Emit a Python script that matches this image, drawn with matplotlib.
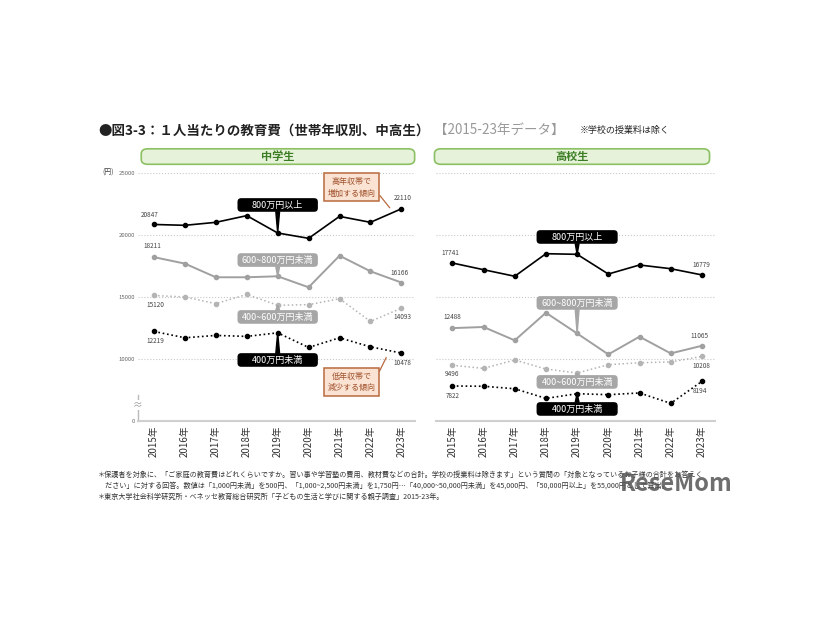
import matplotlib.pyplot as plt
from matplotlib.patches import FancyBboxPatch

plt.rcParams['font.family'] = ['Noto Sans CJK JP', 'DejaVu Sans']

# data (yen per child per month)
years = [2015, 2016, 2017, 2018, 2019, 2020, 2021, 2022, 2023]
series_names = ['800万円以上', '600~800万円未満', '400~600万円未満', '400万円未満']

jhs_800 = [20847, 20780, 21020, 21560, 20160, 19730, 21500, 21020, 22110]
jhs_600 = [18211, 17690, 16590, 16590, 16670, 15780, 18330, 17070, 16166]
jhs_400 = [15120, 15000, 14460, 15210, 14330, 14380, 14860, 13030, 14093]
jhs_low = [12219, 11710, 11900, 11820, 12110, 10930, 11710, 10980, 10478]

hs_800 = [17741, 17200, 16670, 18490, 18440, 16850, 17580, 17280, 16779]
hs_600 = [12488, 12580, 11500, 13730, 12060, 10370, 11800, 10450, 11065]
hs_400 = [9496, 9240, 9920, 9190, 8870, 9540, 9700, 9760, 10208]
hs_low = [7822, 7800, 7600, 6820, 7200, 7120, 7260, 6420, 8194]

yticks = [5000, 10000, 15000, 20000, 25000]
ytick_labels = ['0', '10000', '15000', '20000', '25000']

styles = [
    dict(color='black', ls='-', lw=1.2),
    dict(color='#a0a0a0', ls='-', lw=1.4),
    dict(color='#b4b4b4', ls=':', lw=1.1),
    dict(color='black', ls=':', lw=1.2),
]
tag_colors = ['black', '#a6a6a6', '#a6a6a6', 'black']

fig = plt.figure(figsize=(8.26, 6.2), dpi=100)
ax1 = fig.add_axes([0.167, 0.321, 0.335, 0.400])
ax2 = fig.add_axes([0.528, 0.321, 0.338, 0.400])

x = list(range(len(years)))


def tag(ax, tx, ty, py, text, fc):
    # rounded label box with a small pointer to the 2019 point
    w, h = 2.6, 1100
    ax.add_patch(FancyBboxPatch((tx - w / 2, ty - h / 2), w, h,
                                boxstyle='round,pad=0,rounding_size=0.12',
                                mutation_aspect=2500, fc=fc, ec='none',
                                zorder=5, clip_on=False))
    ax.text(tx, ty, text, color='white', ha='center', va='center',
            fontsize=6.5, zorder=6)
    edge = ty - h / 2 if py < ty else ty + h / 2
    ax.fill([tx - 0.06, tx + 0.06, tx], [edge, edge, py], color=fc, zorder=5,
            clip_on=False)


def value_label(ax, xi, v, dx, dy):
    ax.annotate(f'{v}', (xi, v), textcoords='offset points', xytext=(dx, dy),
                ha='center', va='center', fontsize=4.6, color='#444444')


for ax in (ax1, ax2):
    ax.set_xlim(-0.52, 8.43)
    ax.set_ylim(5000, 25000)
    ax.set_yticks(yticks)
    ax.grid(axis='y', ls=':', color='#c8c8c8', lw=0.8)
    for s in ('top', 'right', 'left'):
        ax.spines[s].set_visible(False)
    ax.spines['bottom'].set_color('#cfcfcf')
    ax.spines['bottom'].set_linewidth(1.5)
    ax.set_xticks(x)
    ax.set_xticklabels([f'{y}年' for y in years], rotation=90, fontsize=7,
                       color='#333333')
    ax.tick_params(length=0, pad=3)

ax1.set_yticklabels(ytick_labels, fontsize=4.3, color='#666666')
ax1.tick_params(axis='y', pad=2)
ax2.set_yticklabels([])

panels = [
    (ax1, [jhs_800, jhs_600, jhs_400, jhs_low],
     [(22420, 20160), (17980, 16670), (13390, 14330), (9920, 12110)],
     [((-3, 7), (0.7, 8)), ((-1.5, 8), (-1.5, 7)), ((0.7, -6.5), (0.7, -6.5)),
      ((0.7, -7), (0.7, -7))]),
    (ax2, [hs_800, hs_600, hs_400, hs_low],
     [(19840, 18440), (14520, 12060), (8150, 8870), (5970, 7200)],
     [((-1.5, 7), (-0.7, 7)), ((0, 8), (-1.5, 7)), ((0, -6.5), (-0.7, -7)),
      ((0, -7), (-1.5, -7))]),
]

for ax, data, tags, offs in panels:
    for vals, st, name, fc, (ty, py), (o1, o2) in zip(data, styles, series_names,
                                                         tag_colors, tags, offs):
        ax.plot(x, vals, marker='o', markersize=3, color=st['color'],
                ls=st['ls'], lw=st['lw'], zorder=3)
        value_label(ax, 0, vals[0], *o1)
        value_label(ax, 8, vals[-1], *o2)
        tag(ax, 4, ty, py, name, fc)

# axis break on the left panel
ax1.plot([0, 0], [5000, 7100], color='#bbbbbb', lw=1,
         transform=ax1.get_yaxis_transform(), clip_on=False)
ax1.text(0, 6300, '≈', transform=ax1.get_yaxis_transform(), ha='center',
         va='center', fontsize=7, color='#999999',
         bbox=dict(boxstyle='square,pad=0', fc='white', ec='none'))
fig.text(0.124, 0.721, '(円)', fontsize=5, color='#444444', va='center')

# trend call-outs
note_style = dict(fontsize=5.8, color='#a0522d', ha='center', va='center',
                  linespacing=1.4, zorder=6,
                  bbox=dict(boxstyle='square,pad=0.45', fc='#fbe3d3',
                            ec='#b86a3e', lw=1.1))
ax1.text(6.39, 23870, '高年収帯で\n増加する傾向', **note_style)
ax1.annotate('', xy=(7.68, 22020), xytext=(7.25, 23350),
             arrowprops=dict(arrowstyle='-', color='#b86a3e', lw=0.9))
ax1.text(6.39, 8150, '低年収帯で\n減少する傾向', **note_style)
ax1.annotate('', xy=(7.55, 10320), xytext=(7.25, 8800),
             arrowprops=dict(arrowstyle='-', color='#b86a3e', lw=0.9))

# panel headers
for x0, x1, label in [(0.171, 0.502, '中学生'), (0.526, 0.859, '高校生')]:
    fig.patches.append(FancyBboxPatch((x0, 0.735), x1 - x0, 0.025,
                                      boxstyle='round,pad=0,rounding_size=0.008',
                                      transform=fig.transFigure, fc='#e6f2da',
                                      ec='#8cc063', lw=1.2))
    fig.text((x0 + x1) / 2, 0.7475, label, ha='center', va='center',
             fontsize=8, color='#3a7d22', fontweight='bold')

# title
fig.text(0.119, 0.79, '●図3-3：１人当たりの教育費（世帯年収別、中高生）',
         fontsize=9.7, fontweight='bold', va='center', color='#222222')
fig.text(0.526, 0.79, '【2015-23年データ】', fontsize=9.7, va='center',
         color='#999999')
fig.text(0.702, 0.79, '※学校の授業料は除く', fontsize=6.5, va='center',
         color='#222222')

# footnotes
notes = [
    '＊保護者を対象に、「ご家庭の教育費はどれくらいですか。習い事や学習塾の費用、教材費などの合計。学校の授業料は除きます」という質問の「対象となっているお子様の合計をお答えく',
    '　ださい」に対する回答。数値は「1,000円未満」を500円、「1,000~2,500円未満」を1,750円…「40,000~50,000円未満」を45,000円、「50,000円以上」を55,000円として算出。',
    '＊東京大学社会科学研究所・ベネッセ教育総合研究所「子どもの生活と学びに関する親子調査」2015-23年。',
]
for i, line in enumerate(notes):
    fig.text(0.119, 0.234 - i * 0.0175, line, fontsize=5.1, color='#333333',
             va='center')

fig.text(0.75, 0.22, 'ReseMom', fontsize=17, fontweight='bold', color='#555555',
         alpha=0.85, va='center')

fig.savefig('out.png', dpi=100, facecolor='white')
